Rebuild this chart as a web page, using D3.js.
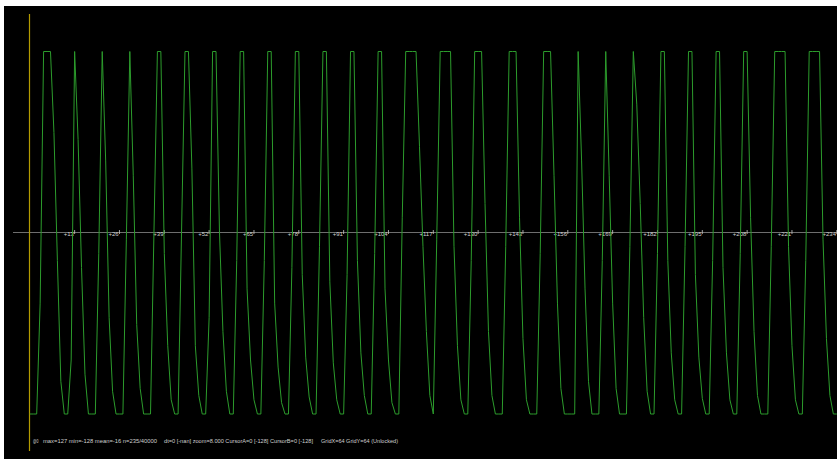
<!DOCTYPE html>
<html>
<head>
<meta charset="utf-8">
<script src="https://cdn.jsdelivr.net/npm/d3@7"></script>
<style>
  html, body { margin: 0; padding: 0; background: #ffffff; }
  svg { display: block; }
</style>
</head>
<body>
<svg id="scope" width="837" height="460"></svg>
<script>
// Captured trace, one value per sample (8-bit signed)
const samples = [
  -128, -128, -128, -50, 127, 127, 127, 70, -20, -105,
  -128, -128, -90, 127, 65, -25, -100, -128, -128, -128,
  -15, 127, 50, -60, -112, -128, -128, -128, -5, 127,
  40, -65, -110, -128, -128, -128, 0, 127, 127, -15,
  -80, -118, -128, -128, 0, 127, 127, 45, -80, -115,
  -128, -128, -60, 127, 127, 0, -70, -112, -128, -128,
  -20, 127, 127, -40, -90, -118, -128, -128, -20, 127,
  127, -50, -95, -120, -128, -128, -25, 127, 127, -30,
  -88, -116, -128, -128, -10, 127, 127, -35, -92, -118,
  -128, -128, -30, 127, 127, -20, -85, -115, -128, -128,
  -15, 127, 127, -40, -90, -120, -128, -128, 10, 127,
  127, 127, 127, 60, -10, -70, -115, -128, -5, 127,
  127, 127, 127, -10, -80, -118, -128, -128, -20, 127,
  127, 127, 20, -70, -115, -128, -128, -128, -10, 127,
  127, 127, 10, -75, -118, -128, -128, -128, -15, 127,
  127, 127, 40, -50, -110, -128, -128, -128, -128, 127,
  50, -40, -105, -128, -128, -128, -20, 127, 40, -50,
  -110, -128, -128, -128, -10, 127, 90, 20, -60, -112,
  -128, -128, -15, 127, 127, -20, -85, -118, -128, -128,
  -10, 127, 127, -30, -88, -117, -128, -128, -20, 127,
  127, -25, -85, -118, -128, -128, -15, 127, 127, 10,
  -70, -115, -128, -128, -128, -10, 127, 127, 127, 127,
  -10, -80, -118, -128, -128, -20, 127, 127, 127, 127,
  -5, -75, -115, -128, -128
];

// Sample offsets marked along the zero line
const tickValues = [13, 26, 39, 52, 65, 78, 91, 104, 117, 130, 143, 156, 169, 182, 195, 208, 221, 234];
const tickLabels = ["+13", "+26", "+39", "+52", "+65", "+78", "+91", "+104", "+117",
                    "+130", "+143", "+156", "+169", "+182", "+195", "+208", "+221", "+234"];

// Status line, in its four groups
const statusParts = [
  "@0",
  "max=127 min=-128 mean=-16 n=235/40000",
  "dt=0 [-nan] zoom=8.000 CursorA=0 [-128] CursorB=0 [-128]",
  "GridX=64 GridY=64 (Unlocked)"
];

const svg = d3.select("#scope");
const W = 837, H = 460;

// Screen area
svg.append("rect")
  .attr("x", 4).attr("y", 6)
  .attr("width", W - 4).attr("height", 453)
  .attr("fill", "#000000");

const x = d3.scaleLinear().domain([0, 234]).range([29.8, 836.8]);
const y = d3.scaleLinear().domain([-128, 127]).range([414, 51.5]);

// Zero line
const y0 = Math.round(y(0)) + 0.5;
svg.append("line")
  .attr("x1", 13).attr("x2", W)
  .attr("y1", y0).attr("y2", y0)
  .attr("stroke", "#6e6e6e")
  .attr("stroke-width", 1);

// Trigger marker at sample 0
svg.append("line")
  .attr("x1", Math.floor(x(0)) + 0.5).attr("x2", Math.floor(x(0)) + 0.5)
  .attr("y1", 14).attr("y2", 451)
  .attr("stroke", "#b39a00")
  .attr("stroke-width", 1.2);

// Sample ticks and labels
const ticks = svg.append("g").attr("class", "ticks");
ticks.selectAll("line")
  .data(tickValues)
  .join("line")
  .attr("x1", d => x(d)).attr("x2", d => x(d))
  .attr("y1", y0 - 2.5).attr("y2", y0 + 1.5)
  .attr("stroke", "#c8c8c8")
  .attr("stroke-width", 0.8);
ticks.selectAll("text")
  .data(tickValues)
  .join("text")
  .attr("x", d => x(d) - 0.8)
  .attr("y", y0 + 3.8)
  .attr("text-anchor", "end")
  .attr("font-family", "Liberation Sans, Arial, sans-serif")
  .attr("font-size", 6)
  .attr("fill", "#cfcfcf")
  .text((d, i) => tickLabels[i]);

// Trace
const line = d3.line()
  .x((d, i) => x(i))
  .y(d => y(d));
svg.append("path")
  .datum(samples)
  .attr("d", line)
  .attr("fill", "none")
  .attr("stroke", "#2c9c2c")
  .attr("stroke-width", 1)
  .attr("stroke-linejoin", "miter");

// Status line
const statusX = [33, 43, 164, 321];
const statusW = [5.5, 114, 149, 77];
svg.append("g").selectAll("text")
  .data(statusParts)
  .join("text")
  .attr("x", (d, i) => statusX[i])
  .attr("y", 443.2)
  .attr("font-family", "Liberation Sans, Arial, sans-serif")
  .attr("font-size", 6)
  .attr("fill", "#cfcfcf")
  .attr("textLength", (d, i) => statusW[i])
  .attr("lengthAdjust", "spacingAndGlyphs")
  .text(d => d);
</script>
</body>
</html>
